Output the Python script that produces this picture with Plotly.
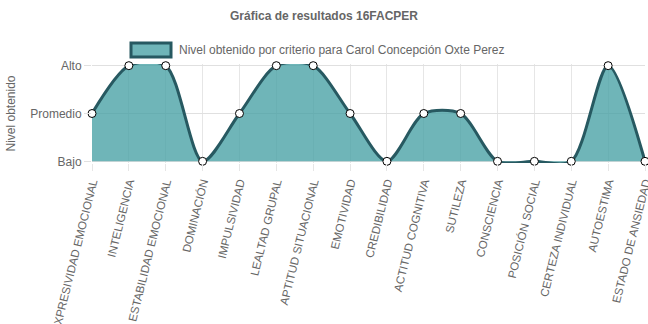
import plotly.graph_objects as go

categories = ["EXPRESIVIDAD EMOCIONAL", "INTELIGENCIA", "ESTABILIDAD EMOCIONAL", "DOMINACIÓN",
              "IMPULSIVIDAD", "LEALTAD GRUPAL", "APTITUD SITUACIONAL", "EMOTIVIDAD",
              "CREDIBILIDAD", "ACTITUD COGNITIVA", "SUTILEZA", "CONSCIENCIA",
              "POSICIÓN SOCIAL", "CERTEZA INDIVIDUAL", "AUTOESTIMA", "ESTADO DE ANSIEDAD"]
values = [1, 2, 2, 0, 1, 2, 2, 1, 0, 1, 1, 0, 0, 0, 2, 0]
level_vals = [0, 1, 2]
level_labels = ["Bajo", "Promedio", "Alto"]
series_name = "Nivel obtenido por criterio para Carol Concepción Oxte Perez"
title_text = "Gráfica de resultados 16FACPER"

FONT = "Arial, Liberation Sans, sans-serif"
GRAY = "#666666"
FILL = "rgba(70,160,164,0.78)"
LINE = "#275961"

fig = go.Figure()
fig.add_trace(go.Scatter(
    x=list(range(len(categories))), y=values,
    mode="lines+markers", fill="tozeroy", fillcolor=FILL,
    line=dict(color=LINE, width=3, shape="spline", smoothing=0.8),
    marker=dict(size=8, color="white", line=dict(color="black", width=1)),
    name=series_name, showlegend=False, cliponaxis=False,
))

W, H = 648, 324
L, R, T, B = 92, 3, 64, 161
pw, ph = W - L - R, H - T - B
PAD = 0.035

def px(x):
    return (x - L) / pw

def py(y):
    return (H - B - y) / ph

fig.add_shape(type="rect", xref="paper", yref="paper",
              x0=px(131), x1=px(171), y0=py(57), y1=py(43),
              fillcolor=FILL, line=dict(color=LINE, width=3))
fig.add_annotation(xref="paper", yref="paper", x=px(177), y=py(50),
                   text=series_name, showarrow=False, xanchor="left", yanchor="middle",
                   font=dict(family=FONT, size=12, color=GRAY))

fig.update_layout(
    width=W, height=H,
    margin=dict(l=L, r=R, t=T, b=B),
    paper_bgcolor="white", plot_bgcolor="white",
    title=dict(text="<b>" + title_text + "</b>", x=0.5, xref="container", xanchor="center",
               y=1 - 16 / H, yref="container", yanchor="middle",
               font=dict(family=FONT, size=12, color=GRAY)),
    font=dict(family=FONT, size=12, color=GRAY),
    xaxis=dict(tickmode="array", tickvals=list(range(len(categories))), ticktext=categories,
               range=[0, len(categories) - 1], tickangle=-76, automargin=False,
               ticklabeloverflow="allow",
               showgrid=True, gridcolor="#e6e6e6", gridwidth=1,
               ticks="outside", ticklen=7, tickcolor="#e6e6e6",
               showline=False, zeroline=False,
               tickfont=dict(family=FONT, size=11.5, color=GRAY)),
    yaxis=dict(tickmode="array", tickvals=level_vals, ticktext=level_labels,
               range=[-PAD, 2 + PAD], automargin=False,
               showgrid=True, gridcolor="#e0e0e0", gridwidth=1,
               ticks="outside", ticklen=7, tickcolor="#e0e0e0",
               showline=False, zeroline=False,
               title=dict(text="Nivel obtenido", standoff=12,
                          font=dict(family=FONT, size=12, color=GRAY)),
               tickfont=dict(family=FONT, size=12, color=GRAY)),
)

fig.write_html("out.html")
